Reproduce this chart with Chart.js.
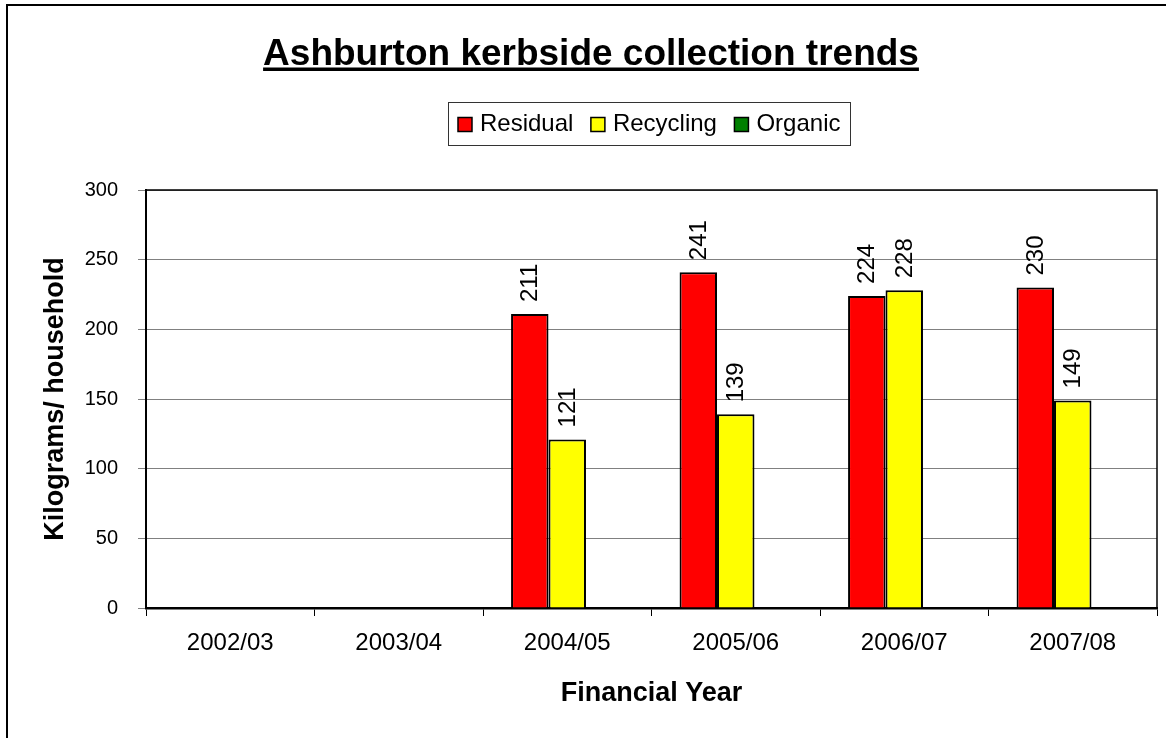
<!DOCTYPE html>
<html>
<head>
<meta charset="utf-8">
<script src="https://cdn.jsdelivr.net/npm/chart.js@4.4.1/dist/chart.umd.min.js"></script>
<style>
html,body{margin:0;padding:0;background:#fff;}
#wrap{width:1166px;height:738px;position:relative;}
</style>
</head>
<body>
<div id="wrap"><canvas id="c" width="1166" height="738"></canvas></div>
<script>
// ---- data ----
const chartTitle = 'Ashburton kerbside collection trends';
const categories = ['2002/03', '2003/04', '2004/05', '2005/06', '2006/07', '2007/08'];
const seriesNames = ['Residual', 'Recycling', 'Organic'];
const residual  = [null, null, 211, 241, 224, 230];
const recycling = [null, null, 121, 139, 228, 149];
const organic   = [null, null, null, null, null, null];
const yTickValues = [0, 50, 100, 150, 200, 250, 300];
const xAxisTitle = 'Financial Year';
const yAxisTitle = 'Kilograms/ household';

// ---- styles ----
const FONT = "'Liberation Sans', Arial, Helvetica, sans-serif";
const seriesColors = ['#FF0000', '#FFFF00', '#008000'];

Chart.defaults.font.family = FONT;
Chart.defaults.color = '#000';

const decor = {
  id: 'decor',
  afterDraw(chart) {
    const ctx = chart.ctx;
    const ca = chart.chartArea;
    ctx.save();

    // outer frame (top and left visible)
    ctx.strokeStyle = '#000';
    ctx.lineWidth = 2;
    ctx.beginPath();
    ctx.moveTo(7, 738);
    ctx.lineTo(7, 5);
    ctx.lineTo(1166, 5);
    ctx.stroke();

    // plot area border top + right
    ctx.strokeStyle = '#000';
    ctx.lineWidth = 1.5;
    ctx.beginPath();
    ctx.moveTo(ca.left, ca.top);
    ctx.lineTo(ca.right, ca.top);
    ctx.lineTo(ca.right, ca.bottom);
    ctx.stroke();

    // title with underline
    ctx.font = 'bold 37px ' + FONT;
    ctx.fillStyle = '#000';
    ctx.textAlign = 'center';
    ctx.textBaseline = 'alphabetic';
    const tx = 591, ty = 64.5;
    ctx.fillText(chartTitle, tx, ty);
    const tw = ctx.measureText(chartTitle).width;
    ctx.fillRect(tx - tw / 2, 67.5, tw, 3.5);

    // legend box
    ctx.font = '24px ' + FONT;
    const marker = 14, gapText = 8, gapItem = 17.5, padX = 10;
    const widths = seriesNames.map(n => ctx.measureText(n).width);
    let total = padX * 2;
    widths.forEach((w, i) => { total += marker + gapText + w + (i < widths.length - 1 ? gapItem : 0); });
    const lcx = 649, boxTop = 102, boxH = 43;
    const boxLeft = Math.round(lcx - total / 2);
    ctx.fillStyle = '#fff';
    ctx.fillRect(boxLeft, boxTop, total, boxH);
    ctx.strokeStyle = '#333';
    ctx.lineWidth = 1;
    ctx.strokeRect(boxLeft + 0.5, boxTop + 0.5, Math.round(total), boxH);
    let x = boxLeft + padX;
    const midY = boxTop + boxH / 2 + 1;
    ctx.textAlign = 'left';
    ctx.textBaseline = 'middle';
    seriesNames.forEach((n, i) => {
      ctx.fillStyle = seriesColors[i];
      ctx.fillRect(x, midY - marker / 2, marker, marker);
      ctx.strokeStyle = '#000';
      ctx.lineWidth = 1.5;
      ctx.strokeRect(x, midY - marker / 2, marker, marker);
      x += marker + gapText;
      ctx.fillStyle = '#000';
      ctx.fillText(n, x, midY);
      x += widths[i] + gapItem;
    });

    // data labels (rotated)
    ctx.font = '24px ' + FONT;
    ctx.fillStyle = '#000';
    ctx.textAlign = 'left';
    ctx.textBaseline = 'middle';
    chart.data.datasets.forEach((ds, di) => {
      const meta = chart.getDatasetMeta(di);
      meta.data.forEach((el, i) => {
        const v = ds.data[i];
        if (v === null || v === undefined) return;
        ctx.save();
        ctx.translate(el.x + 1, el.y - 12);
        ctx.rotate(-Math.PI / 2);
        ctx.fillText(String(v), 0, 0);
        ctx.restore();
      });
    });

    ctx.restore();
  }
};

const datasets = [residual, recycling, organic].map((d, i) => ({
  label: seriesNames[i],
  data: d,
  backgroundColor: seriesColors[i],
  borderColor: '#000',
  borderWidth: 2,
  borderSkipped: 'bottom',
  categoryPercentage: 0.667,
  barPercentage: 1.0
}));

new Chart(document.getElementById('c'), {
  type: 'bar',
  data: { labels: categories, datasets },
  options: {
    responsive: false,
    animation: false,
    devicePixelRatio: 1,
    layout: { padding: { top: 190, right: 9, left: 0, bottom: 0 } },
    plugins: {
      legend: { display: false },
      title: { display: false },
      tooltip: { enabled: false }
    },
    scales: {
      x: {
        offset: true,
        grid: { display: true, drawOnChartArea: false, drawTicks: true, tickLength: 8, color: '#000', offset: true },
        border: { display: true, color: '#000', width: 2.5 },
        ticks: { font: { size: 24 }, color: '#000', padding: 13, maxRotation: 0, autoSkip: false },
        title: { display: true, text: xAxisTitle, font: { size: 27, weight: 'bold' }, color: '#000', padding: { top: 0, bottom: 28 } },
        afterFit(s) { s.height = 130; }
      },
      y: {
        min: 0, max: 300,
        afterBuildTicks(s) { s.ticks = yTickValues.map(v => ({ value: v })); },
        grid: { color: '#808080', lineWidth: 1, tickLength: 8, drawTicks: true },
        border: { display: true, color: '#000', width: 2 },
        ticks: { font: { size: 20 }, color: '#000', padding: 20 },
        title: { display: true, text: yAxisTitle, font: { size: 27, weight: 'bold' }, color: '#000', padding: { top: 39, bottom: 0 } },
        afterFit(s) { s.width = 146; }
      }
    }
  },
  plugins: [decor]
});
</script>
</body>
</html>
